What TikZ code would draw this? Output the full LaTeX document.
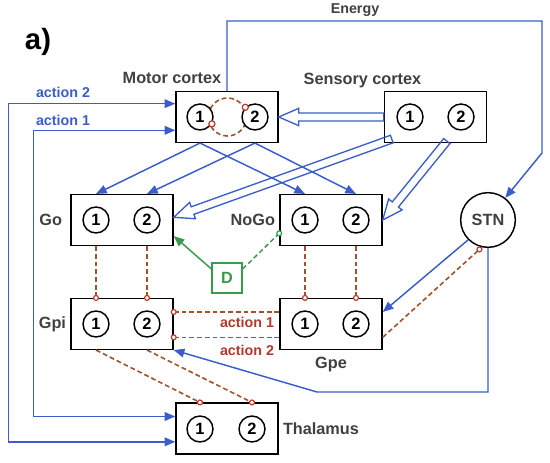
\documentclass[tikz,border=0pt]{standalone}
\usepackage{fontspec}
\setmainfont{Liberation Sans}
\usepackage{xcolor}
\definecolor{flowBlue}{HTML}{3B5CC9}
\definecolor{inhBrown}{HTML}{A0522D}
\definecolor{inhRed}{HTML}{C0392B}
\definecolor{dGreen}{HTML}{3A9A4C}
\definecolor{labelGray}{HTML}{404040}
\definecolor{actRed}{HTML}{B0392E}
\usetikzlibrary{arrows.meta, calc, positioning}

\tikzset{
  >={Triangle[length=8pt, width=6.5pt]},
  box/.style={draw, line width=1.1pt, minimum width=76.5pt, minimum height=38pt},
  unit/.style={circle, draw, fill=white, line width=1.1pt, minimum size=19.5pt, inner sep=0pt,
    font=\bfseries\fontsize{12.3}{14}\selectfont},
  lbl/.style={text=labelGray, inner sep=1pt, font=\bfseries\fontsize{12.2}{14}\selectfont},
  smallLbl/.style={inner sep=1pt, font=\bfseries\fontsize{10.7}{12}\selectfont},
  flow/.style={draw=flowBlue, line width=1.1pt, ->},
  inhLine/.style={draw=inhBrown, line width=1.2pt, dash pattern=on 3.6pt off 2.2pt},
  inh/.style={inhLine, shorten >=-2.3pt,
    -{Circle[open, fill=white, length=4.6pt, color=inhRed, line width=0.9pt]}},
  gflow/.style={draw=dGreen, line width=1.1pt, ->},
  ginh/.style={draw=dGreen, line width=1.1pt, dash pattern=on 3.6pt off 2.2pt, shorten >=-2.3pt,
    -{Circle[open, fill=white, length=4.6pt, color=dGreen, line width=0.9pt]}},
  hollow/.style={draw=flowBlue, line width=1pt, line join=miter, to path={
    ($(\tikztostart)!3pt!90:(\tikztotarget)$)
    -- ($(\tikztotarget)!15pt!(\tikztostart)!3pt!-90:(\tikztostart)$)
    -- ($(\tikztotarget)!15pt!(\tikztostart)!6.5pt!-90:(\tikztostart)$)
    -- (\tikztotarget)
    -- ($(\tikztotarget)!15pt!(\tikztostart)!6.5pt!90:(\tikztostart)$)
    -- ($(\tikztotarget)!15pt!(\tikztostart)!3pt!90:(\tikztostart)$)
    -- ($(\tikztostart)!3pt!-90:(\tikztotarget)$)
    -- cycle}}
}

\begin{document}
\begin{tikzpicture}[x=0.75pt, y=-0.75pt]
  \useasboundingbox (0,0) rectangle (550,463);
  \node[font=\bfseries\fontsize{22}{24}\selectfont] (title) at (38,42) {a)};
  % boxes
  \node[box] (M) at (227,117) {};
  \node[box] (S) at (435.5,117) {};
  \node[box] (Go) at (122,220) {};
  \node[box] (NoGo) at (331,220) {};
  \node[box] (Gpi) at (122,324) {};
  \node[box] (Gpe) at (331,324) {};
  \node[box] (T) at (227,428.5) {};
  \node[circle, draw, line width=1.1pt, minimum size=41pt, inner sep=0pt, lbl] (STN) at (488,220) {STN};
  \node[draw=dGreen, line width=1pt, minimum size=22.5pt, inner sep=0pt, text=dGreen,
    font=\bfseries\fontsize{12.2}{14}\selectfont] (D) at (227,278) {D};
  % ring between the two motor units
  \draw[inhLine] (227.5,117) circle (14.25pt);
  % units
  \node[unit] (M1) at (200,117) {1};
  \node[unit] (M2) at (255,117) {2};
  \node[unit] (S1) at (410,117) {1};
  \node[unit] (S2) at (461,117) {2};
  \node[unit] (Go1) at (96,220) {1};
  \node[unit] (Go2) at (147,220) {2};
  \node[unit] (NoGo1) at (305,220) {1};
  \node[unit] (NoGo2) at (356,220) {2};
  \node[unit] (Gpi1) at (96,324) {1};
  \node[unit] (Gpi2) at (147,324) {2};
  \node[unit] (Gpe1) at (305,324) {1};
  \node[unit] (Gpe2) at (356,324) {2};
  \node[unit] (T1) at (200,429) {1};
  \node[unit] (T2) at (252,429) {2};
  \draw[inhRed, line width=0.9pt, fill=white] (M1.-30) circle (2.3pt);
  \draw[inhRed, line width=0.9pt, fill=white] (M2.135) circle (2.3pt);
  % labels
  \node[lbl] (mLbl) at (172,78) {Motor cortex};
  \node[lbl] (sLbl) at (362.5,81) {Sensory cortex};
  \node[lbl, left=5pt of Go] (goLbl) {Go};
  \node[lbl, left=2pt of NoGo] (noGoLbl) {NoGo};
  \node[lbl, left=2pt of Gpi] (gpiLbl) {Gpi};
  \node[lbl, below=4pt of Gpe] (gpeLbl) {Gpe};
  \node[lbl, right=2pt of T] (tLbl) {Thalamus};
  \node[smallLbl, text=labelGray] (enLbl) at (355,10) {Energy};
  \node[smallLbl, text=flowBlue] (a2Lbl) at (63,92) {action 2};
  \node[smallLbl, text=flowBlue] (a1Lbl) at (63,120) {action 1};
  \node[smallLbl, text=actRed] (r1Lbl) at (247,322) {action 1};
  \node[smallLbl, text=actRed] (r2Lbl) at (247,350) {action 2};
  % action inputs
  \draw[flow, <->] ([yshift=10pt]M.west) -- ++(-167,0) |- ([yshift=-10pt]T.west);
  \draw[flow, <->] ([yshift=-10pt]M.west) -- ++(-142,0) |- ([yshift=9pt]T.west);
  % energy
  \draw[flow] (M.north) |- (542,21) -- (542,153) -- (STN.52);
  % motor cortex to striatum
  \draw[flow] (M1 |- M.south) -- (Go1 |- Go.north);
  \draw[flow] (M2 |- M.south) -- (Go2 |- Go.north);
  \draw[flow] (M1 |- M.south) -- (NoGo1 |- NoGo.north);
  \draw[flow] (M2 |- M.south) -- (NoGo2 |- NoGo.north);
  % sensory cortex
  \coordinate (s1) at ([xshift=6pt,yshift=3pt]S.south west);
  \coordinate (s2) at ([xshift=8.5pt,yshift=1.5pt]S.south);
  \draw[hollow] (S.west) to (M.east);
  \draw[hollow] (s1) to ([yshift=2pt]Go.east);
  \draw[hollow] (s2) to (NoGo.east);
  % inhibitory pathways
  \draw[inh] (Go1 |- Go.south) -- (Gpi1 |- Gpi.north);
  \draw[inh] (Go2 |- Go.south) -- (Gpi2 |- Gpi.north);
  \draw[inh] (NoGo1 |- NoGo.south) -- (Gpe1 |- Gpe.north);
  \draw[inh] (NoGo2 |- NoGo.south) -- (Gpe2 |- Gpe.north);
  \draw[inh] ([yshift=9pt]Gpe.west) -- ([yshift=9pt]Gpi.east);
  \draw[inh] ([yshift=-10pt]Gpe.west) -- ([yshift=-10pt]Gpi.east);
  \draw[inh] (Gpi1 |- Gpi.south) -- (T1 |- T.north);
  \draw[inh] (Gpi2 |- Gpi.south) -- (T2 |- T.north);
  % subthalamic nucleus
  \draw[flow] (STN.225) -- ([yshift=9pt]Gpe.east);
  \draw[inh, shorten >=0pt] ([yshift=-10pt]Gpe.east) -- (STN.257);
  \draw[flow] (STN.south) |- (317,392) -- (Gpi.south east);
  % dopamine
  \draw[gflow] (D.150) -- ([yshift=-12pt]Go.east);
  \draw[ginh] (D.30) -- ([yshift=-10pt]NoGo.west);
\end{tikzpicture}
\end{document}
